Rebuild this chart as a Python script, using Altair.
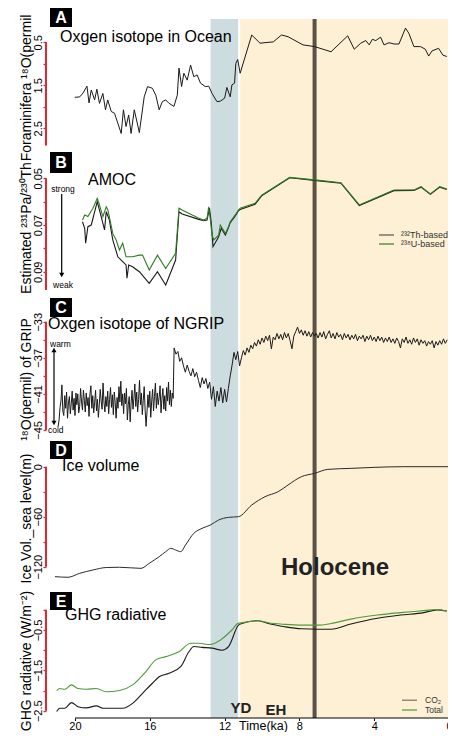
import altair as alt
import pandas as pd

FONT = "Liberation Sans"
RED = "#e6262a"
BLUE = "#cddcde"
CREAM = "#fdf0d5"
VLINE = "#5b5147"
INK = "#1a1a1a"
GREEN_B = "#2f7d22"
GREEN_E = "#4f9a3a"

W = 404
XDOM = [-0.05, 21.55]

# ---------------- events / shading ----------------
yd_band = [11.28, 12.75]
holo_band = [-0.05, 11.17]
event_line = [7.19]

# ---------------- A: foraminifera d18O ----------------
forams_t = [20.01, 19.75, 19.57, 19.36, 19.25, 19.13, 18.95, 18.83, 18.69, 18.51,
            18.37, 18.25, 18.06, 17.89, 17.71, 17.53, 17.41, 17.27, 17.13, 17.00,
            16.83, 16.56, 16.30, 16.12, 15.86, 15.68, 15.50, 15.33, 15.15, 14.97,
            14.71, 14.53, 14.44, 14.30, 14.18, 14.00, 13.82, 13.65, 13.47, 13.29,
            13.03, 12.85, 12.67, 12.41, 12.23, 12.00, 11.88, 11.70, 11.61, 11.47,
            11.40, 11.30, 11.17, 10.55, 10.11, 9.40, 8.96, 8.61, 7.81, 7.19,
            6.31, 5.42, 5.07, 4.72, 4.45, 4.27, 4.10, 3.92, 3.66, 3.48,
            3.21, 2.94, 2.68, 2.33, 2.15, 1.88, 1.53, 1.27, 1.09, 0.91,
            0.56, 0.33, 0.12]
forams_v = [1.78, 1.77, 1.68, 1.52, 1.91, 1.61, 1.84, 1.59, 1.92, 1.69,
            2.07, 1.84, 2.11, 2.15, 2.38, 2.62, 2.07, 2.46, 2.19, 2.62,
            2.07, 2.60, 1.77, 1.53, 1.57, 1.73, 2.07, 1.88, 1.84, 1.92,
            1.99, 1.73, 1.10, 1.53, 1.22, 1.38, 1.03, 1.30, 1.26, 1.45,
            1.53, 1.52, 1.69, 1.88, 1.87, 1.80, 1.55, 1.77, 1.49, 1.45,
            0.99, 0.90, 1.22, 0.33, 0.52, 0.49, 0.33, 0.37, 0.56, 0.60,
            0.72, 0.35, 0.66, 0.52, 0.46, 0.56, 0.43, 0.46, 0.38, 0.56,
            0.51, 0.54, 0.54, 0.17, 0.29, 0.60, 0.60, 0.66, 0.82, 0.70,
            0.64, 0.80, 0.83]

# ---------------- B: Pa/Th (AMOC) ----------------
u_t = [19.60, 19.48, 19.31, 19.04, 18.81, 18.69, 18.51, 18.33, 18.24, 17.98,
       17.80, 17.62, 17.45, 17.27, 16.92, 16.56, 16.39, 16.03, 15.59, 15.15,
       14.62, 14.44, 14.27, 13.38, 13.12, 12.94, 12.85, 12.76, 12.67, 12.58,
       12.32, 12.23, 11.96, 11.79, 11.70, 11.43, 11.26, 11.17, 10.37, 10.02,
       8.52, 7.19, 5.78, 4.80, 2.95, 1.88, 1.50, 1.00, 0.50, 0.12]
u_v = [0.0679, 0.0657, 0.0664, 0.0628, 0.0586, 0.0614, 0.0664, 0.0622, 0.0636, 0.0736,
       0.0764, 0.0807, 0.0778, 0.0836, 0.0836, 0.0829, 0.0829, 0.0893, 0.0829, 0.0886,
       0.0821, 0.0628, 0.0636, 0.0671, 0.0679, 0.0671, 0.0622, 0.0679, 0.0743, 0.0764,
       0.0743, 0.0700, 0.0736, 0.0707, 0.0686, 0.0657, 0.0636, 0.0628, 0.0607, 0.0572,
       0.0496, 0.0507, 0.0519, 0.0614, 0.0550, 0.0550, 0.0536, 0.0567, 0.0536, 0.0546]
th_t = [19.60, 19.48, 19.43, 19.31, 19.13, 18.81, 18.60, 18.42, 18.33, 18.16,
        17.98, 17.71, 17.45, 17.27, 17.22, 17.13, 16.92, 16.56, 16.03, 15.59,
        15.15, 14.62, 14.44, 14.27, 13.38, 13.12, 12.94, 12.81, 12.71, 12.62,
        12.32, 12.18, 11.96, 11.79, 11.70, 11.43, 11.26, 11.17, 10.37, 10.02,
        8.52, 7.19, 5.78, 4.80, 2.95, 1.88, 1.50, 1.00, 0.50, 0.12]
th_v = [0.0686, 0.0714, 0.0778, 0.0707, 0.0700, 0.0600, 0.0664, 0.0721, 0.0643, 0.0679,
        0.0764, 0.0836, 0.0857, 0.0871, 0.0928, 0.0871, 0.0879, 0.0900, 0.0950, 0.0900,
        0.0957, 0.0850, 0.0643, 0.0653, 0.0676, 0.0682, 0.0679, 0.0628, 0.0693, 0.0793,
        0.0750, 0.0714, 0.0743, 0.0710, 0.0690, 0.0661, 0.0639, 0.0634, 0.0611, 0.0575,
        0.0498, 0.0509, 0.0521, 0.0617, 0.0553, 0.0552, 0.0538, 0.0569, 0.0538, 0.0548]

# ---------------- C: NGRIP d18O ----------------
# glacial part, 0.05 ka steps from 20.90 ka
ngrip_glacial_start = 20.90
ngrip_glacial_step = 0.05
ngrip_glacial_v = [
    -44.6, -43.9, -42.5, -41.8, -40.0, -42.9, -43.4, -41.2, -42.6, -40.8,
    -43.7, -42.0, -41.3, -43.2, -42.1, -40.7, -42.8, -41.5, -43.4, -40.9,
    -42.2, -41.0, -43.1, -42.4, -40.4, -41.9, -42.8, -40.6, -41.7, -43.0,
    -40.9, -42.3, -41.4, -43.5, -41.0, -40.1, -42.6, -41.2, -43.1, -42.0,
    -40.6, -42.9, -41.6, -43.6, -42.2, -40.5, -41.8, -42.7, -39.8, -41.9,
    -43.0, -41.3, -42.4, -40.7, -43.2, -41.6, -40.3, -42.5, -41.1, -43.3,
    -40.8, -42.0, -43.7, -41.4, -42.6, -40.2, -41.9, -39.6, -42.3, -41.0,
    -43.2, -40.9, -42.1, -40.4, -43.9, -42.2, -41.3, -44.1, -42.0, -40.6,
    -42.7, -41.5, -39.9, -42.4, -40.8, -43.0, -41.6, -39.5, -42.2, -40.9,
    -43.3, -41.7, -40.2, -42.8, -44.6, -43.0, -41.1, -42.5, -40.7, -43.6,
    -41.8, -40.5, -42.9, -41.3, -39.8, -42.6, -40.9, -42.2, -41.4, -40.1,
    -43.1, -41.5, -40.4, -42.7, -41.2, -42.9, -40.3, -41.8, -39.7, -42.2,
    -40.6, -42.4, -40.9, -41.5]
# deglacial and Holocene part, 0.1 ka steps from 14.7 ka
ngrip_start = 14.7
ngrip_step = 0.1
ngrip_v = [-35.9, -36.6, -36.3, -37.4, -37.0, -37.9, -38.6, -37.8,
           -38.5, -39.0, -38.2, -39.1, -38.6, -39.5, -40.3, -39.2, -39.9, -39.3,
           -40.4, -39.7, -41.6, -40.2, -42.4, -40.7, -41.8, -40.3, -42.0, -40.5,
           -41.9, -40.4, -39.0, -37.8, -36.4, -37.2, -36.3, -37.9, -37.0, -36.2,
           -36.7, -35.9, -36.4, -35.6, -36.0, -35.3, -35.7, -35.0, -35.5, -34.8,
           -35.3, -34.6, -35.1, -34.5, -36.0, -34.7, -35.0, -34.3, -34.9, -34.4,
           -35.0, -34.2, -34.8, -34.3, -35.1, -36.0, -34.6, -34.1, -33.6, -34.3,
           -33.9, -34.5, -34.0, -34.6, -34.1, -34.7, -34.2, -34.6, -34.3, -34.8,
           -34.2, -34.7, -34.1, -34.9, -34.4, -34.0, -34.8, -34.3, -34.9, -34.2,
           -34.7, -34.4, -35.0, -34.3, -34.8, -34.4, -35.0, -34.5, -34.9, -34.4,
           -35.1, -34.6, -34.9, -34.5, -35.2, -34.6, -35.0, -34.5, -35.1, -34.7,
           -35.2, -34.6, -35.1, -34.7, -35.3, -34.8, -35.2, -34.7, -35.3, -34.9,
           -35.4, -34.8, -35.2, -35.9, -34.9, -35.3, -34.7, -35.4, -35.0, -35.5,
           -34.8, -35.3, -34.9, -35.6, -35.0, -35.4, -35.1, -35.7, -35.2, -35.5,
           -35.1, -35.9, -35.2, -35.6, -35.1, -35.5, -34.9, -35.4, -35.0]
ngrip_all_t = ([round(ngrip_glacial_start - ngrip_glacial_step * i, 3) for i in range(len(ngrip_glacial_v))]
               + [round(ngrip_start - ngrip_step * i, 3) for i in range(len(ngrip_v))])
ngrip_all_v = ngrip_glacial_v + ngrip_v

# ---------------- D: sea level ----------------
sl_t = [21.07, 20.37, 19.75, 19.04, 18.33, 17.62, 16.47, 16.03, 15.50, 15.15,
        14.88, 14.62, 14.35, 14.09, 13.65, 13.21, 12.76, 12.32, 11.79, 11.26,
        10.55, 9.84, 9.14, 8.61, 7.90, 7.19, 6.48, 5.25, 4.01, 2.42, -0.05]
sl_v = [-132, -132.7, -128, -124, -121, -120.7, -122, -116, -108, -102,
        -98, -100, -102, -94, -80, -74, -70, -64, -60.8, -60,
        -46, -36, -30, -22, -12, -8, -3.2, -2, -0.8, 0, 0]

# ---------------- E: GHG radiative forcing ----------------
co2_t = [20.98, 20.81, 20.54, 20.19, 19.84, 19.39, 18.86, 18.51, 17.98, 17.45,
         16.92, 16.39, 15.86, 15.50, 14.97, 14.35, 13.91, 13.65, 13.21, 12.67,
         12.14, 11.79, 11.26, 11.08, 10.20, 9.67, 8.78, 7.90, 7.01, 6.31,
         5.25, 3.83, 2.59, 1.35, 0.65, 0.12]
co2_v = [-2.52, -2.44, -2.44, -2.30, -2.40, -2.43, -2.38, -2.44, -2.44, -2.44,
         -2.32, -2.07, -1.82, -1.66, -1.57, -1.41, -1.04, -0.91, -0.93, -0.95,
         -1.00, -0.91, -0.38, -0.34, -0.27, -0.34, -0.42, -0.47, -0.48, -0.48,
         -0.35, -0.21, -0.13, -0.07, 0.0, -0.03]
tot_t = [20.98, 20.81, 20.54, 20.19, 19.84, 19.39, 18.86, 18.33, 17.62, 16.92,
         16.21, 15.68, 15.15, 14.44, 13.82, 13.38, 12.76, 12.23, 11.61, 11.26,
         11.08, 10.20, 9.67, 8.78, 7.90, 7.01, 6.31, 5.25, 3.83, 2.59,
         1.35, 0.65, 0.12]
tot_v = [-2.00, -1.95, -1.97, -1.86, -1.95, -1.97, -1.95, -2.03, -2.00, -1.86,
         -1.53, -1.24, -1.16, -1.04, -0.83, -0.83, -0.86, -0.75, -0.50, -0.33,
         -0.32, -0.27, -0.32, -0.36, -0.38, -0.38, -0.34, -0.23, -0.13, -0.07,
         -0.02, 0.01, -0.03]

# ---------------- texts ----------------
panel_letters = ["A", "B", "C", "D", "E"]
panel_titles = ["Oxgen isotope in Ocean", "AMOC", "Oxgen isotope of NGRIP",
                "Ice volume", "GHG radiative"]
y_titles = ["Foraminifera \u00b9\u2078O(permil", "Estimated \u00b2\u00b3\u00b9Pa/\u00b2\u00b3\u2070Th",
            "\u00b9\u2078O(permil) of GRIP", "Ice Vol._sea level(m)",
            "GHG radiative (W/m\u207b\u00b2)"]
legend_b = ["\u00b2\u00b3\u00b2Th-based", "\u00b2\u00b3\u2078U-based"]
legend_e = ["CO\u2082", "Total"]
x_ticks = [20, 16, 12, 8, 4, 0]

DUMMY = pd.DataFrame({"k": [0]})


def xs():
    return alt.Scale(domain=XDOM, reverse=True, nice=False, zero=False)


def txt(s, x, y, size=16, weight="normal", color="black", align="left", baseline="middle"):
    return alt.Chart(DUMMY).mark_text(
        text=s, font=FONT, fontSize=size, fontWeight=weight, color=color,
        align=align, baseline=baseline
    ).encode(x=alt.value(x), y=alt.value(y))


def vrule(x, y0, y1, color="black", sw=1.2):
    return alt.Chart(DUMMY).mark_rule(color=color, strokeWidth=sw).encode(
        x=alt.value(x), y=alt.value(y0), y2=alt.value(y1))


def hrule(x0, x1, y, color, sw=1.2):
    return alt.Chart(DUMMY).mark_rule(color=color, strokeWidth=sw).encode(
        x=alt.value(x0), x2=alt.value(x1), y=alt.value(y))


def head(x, y, shape):
    return alt.Chart(DUMMY).mark_point(shape=shape, filled=True, size=26, color="black",
                                       opacity=1).encode(x=alt.value(x), y=alt.value(y))


def letter_box(i, y0, y1):
    box = alt.Chart(DUMMY).mark_rect(color="black").encode(
        x=alt.value(4), x2=alt.value(26), y=alt.value(y0), y2=alt.value(y1))
    return [box, txt(panel_letters[i], 15, (y0 + y1) / 2 + 0.5, size=16, weight="bold",
                     color="white", align="center")]


def make_axis(title, values, fmt, expr, title_y):
    return alt.Axis(
        title=title, values=values, format=fmt, labelExpr=expr, domain=False, grid=False,
        tickColor=RED, tickSize=3, tickWidth=1.3,
        labelAngle=-90, labelAlign="center", labelBaseline="bottom", labelPadding=0,
        labelFontSize=11, labelFont=FONT, labelColor="black", labelOverlap=False,
        labelFlush=False,
        titleFontSize=14, titleFont=FONT, titleFontWeight="normal", titleColor="black",
        titleAngle=270, titleX=-13, titleY=title_y, titleAlign="center",
        titleBaseline="bottom")


bottom_axis = alt.Axis(values=x_ticks, format="d", domain=False, grid=False,
                       tickColor="black", tickSize=2.5, tickWidth=1,
                       labelFontSize=11, labelFont=FONT, labelColor="black",
                       labelPadding=0, labelFlush=False, labelOverlap=False,
                       title="Time(ka)", titleFont=FONT, titleFontSize=12.5,
                       titleFontWeight="normal", titleColor="black",
                       titleX=217, titleY=1, titleAlign="center", titleBaseline="top")


def panel(h, ydom, reverse, yax, red_rng, series, extra, xaxis=None):
    ysc = alt.Scale(domain=ydom, reverse=reverse, nice=False, zero=False)
    X = lambda f: alt.X(f, type="quantitative", scale=xs(), axis=xaxis)
    layers = []
    band1 = alt.Chart(pd.DataFrame({"a": [yd_band[0]], "b": [yd_band[1]]})).mark_rect(
        color=BLUE).encode(x=X("a"), x2="b", y=alt.value(0), y2=alt.value(h))
    band2 = alt.Chart(pd.DataFrame({"a": [holo_band[0]], "b": [holo_band[1]]})).mark_rect(
        color=CREAM).encode(x=X("a"), x2="b", y=alt.value(0), y2=alt.value(h))
    line7 = alt.Chart(pd.DataFrame({"t": event_line})).mark_rule(
        color=VLINE, strokeWidth=4).encode(x=X("t"))
    red = alt.Chart(pd.DataFrame({"x": [XDOM[1]], "y1": [red_rng[0]], "y2": [red_rng[1]]})).mark_rule(
        color=RED, strokeWidth=2).encode(
        x=X("x"), y=alt.Y("y1", type="quantitative", scale=ysc, axis=yax), y2="y2")
    layers += [band1, band2, line7, red]
    for (tt, vv, color, sw, interp) in series:
        df = pd.DataFrame({"t": tt, "v": vv})
        layers.append(alt.Chart(df).mark_line(color=color, strokeWidth=sw, interpolate=interp).encode(
            x=X("t"), y=alt.Y("v", type="quantitative", scale=ysc, axis=yax)))
    if xaxis is not None:
        layers.append(alt.Chart(pd.DataFrame({"a": [x_ticks[0]], "b": [x_ticks[-1]]})).mark_rule(
            color="black", strokeWidth=1).encode(x=X("a"), x2="b", y=alt.value(h)))
    layers += extra
    return alt.layer(*layers).properties(width=W, height=h)


# invisible frame that fixes the outer bounds of the figure (left and right edges)
frame = alt.Chart(DUMMY).mark_rect(opacity=0).encode(
    x=alt.value(-38), x2=alt.value(410), y=alt.value(-11), y2=alt.value(-10))

# Panel A
hA = 131
axA = make_axis(y_titles[0], [0.5, 1, 1.5, 2, 2.5], ".1f",
                "datum.value == 1 || datum.value == 2 ? '' : datum.label", 68.5)
pA = panel(hA, [-0.042, 3.005], True, axA, [0.5, 2.9],
           [(forams_t, forams_v, INK, 1, "linear")],
           [frame] + letter_box(0, -11, 8) + [txt(panel_titles[0], 14, 17.7)])

# Panel B
hB = 150
axB = make_axis(y_titles[1], [0.05, 0.06, 0.07, 0.08, 0.09], ".2f",
                "(abs(datum.value - 0.06) < 0.001 || abs(datum.value - 0.08) < 0.001) ? '' : datum.label",
                77.5)
pB = panel(hB, [0.0379, 0.1021], True, axB, [0.05, 0.0978],
           [(th_t, th_v, INK, 1.1, "linear"), (u_t, u_v, GREEN_B, 1.1, "linear")],
           letter_box(1, 2, 23) + [
               txt(panel_titles[1], 42, 30),
               txt("strong", 17, 39, size=8.5, align="center"),
               vrule(15.7, 44, 124),
               head(15.7, 125, "triangle-down"),
               txt("weak", 17, 135, size=8.5, align="center"),
               hrule(333, 348, 85, "#555555"),
               hrule(333, 348, 94, GREEN_B),
               txt(legend_b[0], 355, 85, size=9, color="#333333"),
               txt(legend_b[1], 355, 94, size=9, color="#333333"),
           ])

# Panel C
hC = 145
axC = make_axis(y_titles[2], [-45, -43, -41, -39, -37, -35, -33], "d",
                "(datum.value + 45) % 4 == 0 ? datum.label : ''", 79)
pC = panel(hC, [-46.67, -30.59], False, axC, [-45, -33],
           [(ngrip_all_t, ngrip_all_v, INK, 1, "linear")],
           letter_box(2, -2, 17) + [
               txt(panel_titles[2], 2, 24),
               txt("warm", 4, 44, size=8.5),
               vrule(8, 50, 123),
               head(8, 50, "triangle-up"),
               head(8, 123, "triangle-down"),
               txt("cold", 2, 130, size=8.5),
           ])

# Panel D
hD = 152
axD = make_axis(y_titles[3], [0, -30, -60, -90, -120], "d",
                "datum.value % 60 == 0 ? datum.label : ''", 73)
pD = panel(hD, [-156.4, 26.04], False, axD, [-120, 0],
           [(sl_t, sl_v, "#2b2b2b", 1, "monotone")],
           letter_box(3, -4, 14) + [
               txt(panel_titles[3], 16, 21),
               txt("Holocene", 289, 123, size=24, weight="bold", color="#222222", align="center"),
           ])

# Panel E
hE = 121
axE = make_axis(y_titles[4], [0, -0.5, -1, -1.5, -2, -2.5], ".1f",
                "abs((datum.value * 2) % 2) == 1 ? datum.label : ''", 63.5)
pE = panel(hE, [-2.681, 0.318], False, axE, [-2.5, 0],
           [(co2_t, co2_v, INK, 1.1, "monotone"), (tot_t, tot_v, GREEN_E, 1.1, "monotone")],
           letter_box(4, -5, 13) + [
               txt(panel_titles[4], 19, 18),
               txt("YD", 195, 111, size=15, weight="bold", color="#222222", align="center"),
               txt("EH", 230, 113, size=15, weight="bold", color="#222222", align="center"),
               hrule(356, 371, 103.2, "#7a7066"),
               hrule(356, 371, 113, GREEN_E),
               txt(legend_e[0], 379, 103.2, size=8.5, color="#333333"),
               txt(legend_e[1], 379, 113, size=8.5, color="#333333"),
           ],
           xaxis=bottom_axis)

chart = alt.vconcat(pA, pB, pC, pD, pE, spacing=0, bounds="flush").resolve_scale(
    x="independent", y="independent"
).properties(
    padding={"left": 0, "top": 0, "right": -8, "bottom": 0}
).configure_view(stroke=None)

chart.save("out.html", embed_options={"renderer": "svg", "actions": False})
